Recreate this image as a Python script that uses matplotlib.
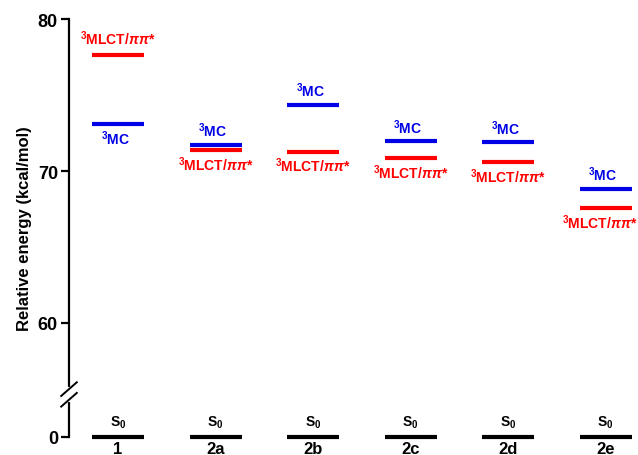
import matplotlib
matplotlib.use("Agg")
import matplotlib.pyplot as plt

plt.rcParams.update({
    "font.family": ["Liberation Sans", "DejaVu Sans"],
    "font.weight": "bold",
    "axes.labelweight": "bold",
    "mathtext.fontset": "custom",
    "mathtext.rm": "Liberation Sans:bold",
    "mathtext.it": "Liberation Sans:italic",
    "mathtext.bf": "Liberation Sans:bold",
})

RED, BLUE = "#ff0000", "#0000e6"

compounds = ["1", "2a", "2b", "2c", "2d", "2e"]
mc_energy = [73.07, 71.71, 74.34, 71.97, 71.89, 68.82]
mlct_energy = [77.63, 71.36, 71.27, 70.83, 70.57, 67.56]
s0_energy = [0, 0, 0, 0, 0, 0]
# label side relative to line: +1 above, -1 below
mc_side = [-1, 1, 1, 1, 1, 1]
mlct_side = [1, -1, -1, -1, -1, -1]

BREAK_SHIFT = 52.5  # value 0 is drawn at 52.5 (broken axis)


def ymap(v):
    return v if v >= 55 else v + BREAK_SHIFT


MLCT_LBL = r"$^{3}$MLCT/$\pi\pi$*"
MC_LBL = r"$^{3}$MC"

fig = plt.figure(figsize=(6.38, 4.56), dpi=100)
ax = fig.add_axes([69 / 638, 18 / 456, 1 - 69 / 638, 418 / 456])
ax.set_xlim(0.497, 6.333)
ax.set_ylim(52.5, 80)

hw = 0.267
for i, name in enumerate(compounds):
    x = i + 1
    ax.hlines(ymap(s0_energy[i]), x - hw, x + hw, color="black", lw=3, clip_on=False)
    ax.hlines(mc_energy[i], x - hw, x + hw, color=BLUE, lw=3)
    ax.hlines(mlct_energy[i], x - hw, x + hw, color=RED, lw=3)

    ax.annotate("S$_{0}$", (x, ymap(s0_energy[i])), xytext=(0, 5), textcoords="offset points",
                ha="center", va="bottom", fontsize=10, color="black")
    ax.annotate(name, (x, ymap(s0_energy[i])), xytext=(0, -3), textcoords="offset points",
                ha="center", va="top", fontsize=12, color="black", annotation_clip=False)

    s = mc_side[i]
    ax.annotate(MC_LBL, (x - 0.03, mc_energy[i]), xytext=(0, 4 if s > 0 else -3),
                textcoords="offset points", ha="center",
                va="bottom" if s > 0 else "top", fontsize=10, color=BLUE)
    s = mlct_side[i]
    if i == 5:
        xy, ha = (6.325, mlct_energy[i]), "right"
    else:
        xy, ha = (x, mlct_energy[i]), "center"
    ax.annotate(MLCT_LBL, xy, xytext=(0, 6 if s > 0 else -3),
                textcoords="offset points", ha=ha,
                va="bottom" if s > 0 else "top", fontsize=10, color=RED,
                annotation_clip=False)

for sp in ("top", "right", "bottom"):
    ax.spines[sp].set_visible(False)
ax.spines["left"].set_linewidth(1.6)
ax.set_xticks([])
ax.set_yticks([52.5, 60, 70, 80])
ax.set_yticklabels(["0", "60", "70", "80"])
ax.tick_params(axis="y", length=6, width=1.6, labelsize=13, pad=2)
ax.set_ylabel("Relative energy (kcal/mol)", fontsize=12, labelpad=4)

# axis break mark
yb = 55.3
ax.plot([0.497, 0.497], [yb - 0.35, yb + 0.35], color="white", lw=3, clip_on=False, zorder=5)
for d in (-0.35, 0.35):
    ax.plot([0.497 - 0.08, 0.497 + 0.08], [yb + d - 0.45, yb + d + 0.45],
            color="black", lw=1.4, clip_on=False, zorder=6)

fig.savefig("out.png", dpi=100)
